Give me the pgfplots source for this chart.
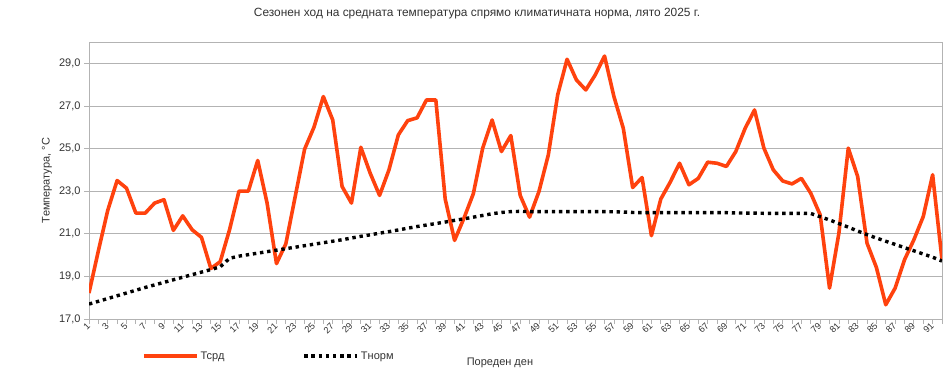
\documentclass[border=0pt]{standalone}
\usepackage{pgfplots}
\pgfplotsset{compat=1.18}
\usepackage{pgfplotstable}
\usepackage{fontspec}
\setmainfont{Liberation Sans}
\definecolor{tred}{HTML}{FF420E}
\definecolor{gridgray}{HTML}{B3B3B3}
\definecolor{txtgray}{HTML}{333333}

\pgfplotstableread{
d t n
1 18.22 17.70
2 20.20 17.83
3 22.10 17.96
4 23.50 18.09
5 23.14 18.22
6 21.97 18.35
7 21.97 18.48
8 22.44 18.60
9 22.60 18.72
10 21.16 18.84
11 21.84 18.96
12 21.19 19.08
13 20.83 19.20
14 19.37 19.32
15 19.69 19.45
16 21.20 19.85
17 23.00 19.95
18 23.00 20.02
19 24.44 20.09
20 22.44 20.16
21 19.60 20.23
22 20.53 20.30
23 22.75 20.37
24 24.97 20.44
25 26.00 20.51
26 27.44 20.58
27 26.34 20.65
28 23.22 20.72
29 22.44 20.80
30 25.06 20.88
31 23.84 20.95
32 22.80 21.03
33 24.00 21.10
34 25.64 21.18
35 26.31 21.26
36 26.44 21.34
37 27.28 21.41
38 27.28 21.48
39 22.63 21.55
40 20.69 21.63
41 21.73 21.70
42 22.88 21.78
43 25.02 21.86
44 26.34 21.94
45 24.86 22.00
46 25.61 22.04
47 22.80 22.05
48 21.78 22.04
49 22.98 22.04
50 24.70 22.04
51 27.52 22.04
52 29.19 22.04
53 28.22 22.04
54 27.75 22.04
55 28.45 22.04
56 29.34 22.04
57 27.44 22.03
58 25.95 22.02
59 23.17 22.00
60 23.64 21.99
61 20.91 21.99
62 22.63 21.99
63 23.42 21.99
64 24.31 21.99
65 23.30 21.99
66 23.60 21.99
67 24.36 21.99
68 24.31 21.99
69 24.16 21.99
70 24.86 21.98
71 25.95 21.97
72 26.81 21.97
73 25.02 21.96
74 24.00 21.96
75 23.48 21.96
76 23.34 21.96
77 23.60 21.96
78 22.90 21.95
79 21.89 21.80
80 18.45 21.65
81 21.03 21.48
82 25.02 21.31
83 23.69 21.13
84 20.56 20.96
85 19.42 20.80
86 17.67 20.65
87 18.45 20.50
88 19.78 20.35
89 20.72 20.20
90 21.81 20.05
91 23.77 19.90
92 19.78 19.72
}\datatable

\begin{document}
\begin{tikzpicture}[font=\fontsize{11pt}{13pt}\selectfont]
\path[use as bounding box] (0,0) rectangle (950pt,373pt);
\begin{axis}[
  at={(89pt,54pt)}, anchor=south west,
  scale only axis, width=853pt, height=277pt,
  xmin=1, xmax=92, ymin=17, ymax=30,
  xtick={1,3,...,91}, minor xtick={2,4,...,92},
  ytick={17,19,...,29},
  xtick pos=bottom, ytick pos=left,
  tick align=outside,
  major tick length=5pt, minor tick length=5pt,
  tick style={gridgray, line width=0.8pt},
  axis line style={gridgray, line width=0.8pt},
  ymajorgrids, grid style={gridgray, line width=0.8pt},
  /pgf/number format/assume math mode=true,
  yticklabel style={text=txtgray, font=\fontsize{11pt}{13pt}\selectfont, /pgf/number format/.cd, fixed, fixed zerofill, precision=1, use comma, 1000 sep={}},
  xticklabel style={rotate=45, anchor=east, text=txtgray, font=\fontsize{9.2pt}{10pt}\selectfont, inner sep=0.5pt},
  title={Сезонен ход на средната температура спрямо климатичната норма, лято 2025 г.},
  title style={at={(axis description cs:0.4549,1.0794)}, anchor=center, text=txtgray, font=\fontsize{11.9pt}{14pt}\selectfont},
  ylabel={Температура, °С},
  every axis y label/.style={at={(axis description cs:-0.0492,0.5)}, rotate=90, anchor=center, text=txtgray},
  xlabel={Пореден ден},
  every axis x label/.style={at={(axis description cs:0.4818,-0.1588)}, anchor=center, text=txtgray},
  legend columns=2,
  legend style={at={(axis description cs:0.0621,-0.1336)}, anchor=west, draw=none, fill=none,
    inner sep=0pt, outer sep=0pt, column sep=0pt, text=txtgray,
    nodes={inner sep=2pt}},
  legend cell align=left,
  legend image code/.code={\draw[#1] (0pt,0pt) -- (53pt,0pt);},
]
\addplot[tred, line width=3.6pt, line join=round] table[x=d, y=t] {\datatable};
\addlegendentry{\makebox[100pt][l]{Тсрд}}
\addplot[black, line width=3.4pt, dash pattern=on 3.4pt off 3.8pt] table[x=d, y=n] {\datatable};
\addlegendentry{Тнорм}
\end{axis}
\end{tikzpicture}
\end{document}
